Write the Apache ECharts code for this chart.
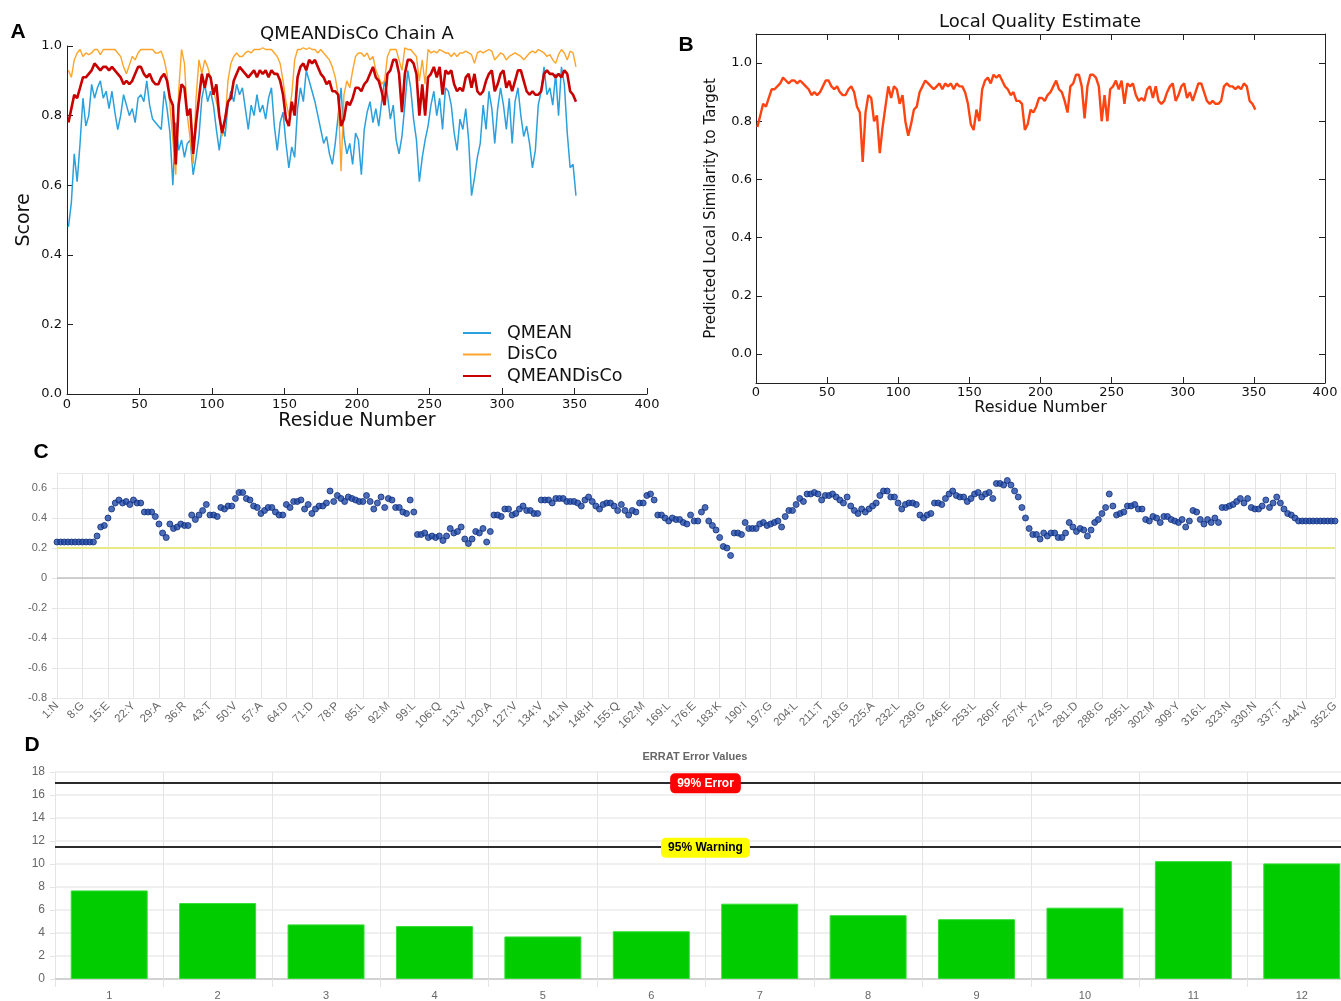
<!DOCTYPE html>
<html>
<head>
<meta charset="utf-8">
<script src="https://cdn.jsdelivr.net/npm/echarts@6/dist/echarts.min.js"></script>
<style>
  html, body { margin: 0; padding: 0; background: #fff; overflow: hidden; }
  #main { width: 1360px; height: 1001px; }
</style>
</head>
<body>
<div id="main"></div>
<script>
// A / B : per-residue scores, read every 2nd residue (1, 3, 5 ... 351)
var qmean = [
  0.48,0.55,0.69,0.61,0.72,0.85,0.77,0.80,0.89,0.85,
  0.88,0.90,0.85,0.87,0.82,0.87,0.81,0.76,0.80,0.86,
  0.83,0.80,0.82,0.78,0.85,0.86,0.84,0.90,0.83,0.79,
  0.78,0.77,0.76,0.87,0.82,0.75,0.60,0.78,0.70,0.73,
  0.68,0.72,0.73,0.63,0.68,0.74,0.85,0.89,0.84,0.87,
  0.83,0.76,0.70,0.77,0.74,0.83,0.87,0.84,0.89,0.86,
  0.88,0.82,0.76,0.83,0.80,0.86,0.81,0.83,0.79,0.85,
  0.88,0.77,0.70,0.78,0.81,0.72,0.65,0.71,0.68,0.82,
  0.88,0.84,0.93,0.90,0.87,0.84,0.80,0.76,0.72,0.74,
  0.69,0.66,0.72,0.80,0.88,0.74,0.69,0.72,0.66,0.75,
  0.73,0.63,0.76,0.81,0.84,0.78,0.82,0.77,0.84,0.90,
  0.86,0.79,0.83,0.73,0.69,0.74,0.83,0.93,0.88,0.79,
  0.73,0.61,0.68,0.73,0.77,0.83,0.87,0.80,0.85,0.76,
  0.88,0.87,0.83,0.75,0.70,0.79,0.76,0.82,0.73,0.57,
  0.62,0.68,0.72,0.83,0.76,0.87,0.82,0.72,0.82,0.88,
  0.83,0.76,0.85,0.72,0.84,0.88,0.80,0.74,0.77,0.72,
  0.65,0.70,0.83,0.87,0.94,0.86,0.88,0.83,0.92,0.80,
  0.94,0.89,0.75,0.65,0.66,0.57
];
var disco = [
  0.93,0.91,0.96,0.98,0.99,0.97,0.98,0.975,0.98,0.99,
  0.99,0.975,0.99,0.99,0.99,0.99,0.99,0.98,0.97,0.94,
  0.92,0.945,0.97,0.96,0.98,0.99,0.99,0.99,0.99,0.99,
  0.98,0.98,0.985,0.96,0.92,0.83,0.73,0.63,0.87,0.99,
  0.95,0.80,0.73,0.66,0.85,0.96,0.92,0.96,0.94,0.91,
  0.87,0.84,0.80,0.74,0.78,0.90,0.95,0.97,0.98,0.97,
  0.97,0.98,0.985,0.98,0.99,0.99,0.99,0.995,0.99,0.99,
  0.99,0.98,0.97,0.95,0.90,0.84,0.80,0.86,0.96,0.99,
  0.99,0.995,0.99,0.995,0.99,0.99,0.98,0.99,0.98,0.97,
  0.96,0.94,0.91,0.86,0.64,0.86,0.90,0.88,0.93,0.97,
  0.98,0.98,0.97,0.98,0.96,0.97,0.93,0.91,0.89,0.90,
  0.97,0.99,0.99,0.99,0.96,0.93,0.995,0.99,0.99,0.98,
  0.97,0.90,0.96,0.89,0.99,0.98,0.985,0.98,0.99,0.985,
  0.98,0.98,0.97,0.98,0.97,0.98,0.98,0.985,0.98,0.975,
  0.95,0.98,0.985,0.98,0.985,0.99,0.985,0.96,0.97,0.98,
  0.975,0.96,0.97,0.975,0.98,0.975,0.97,0.96,0.97,0.98,
  0.985,0.98,0.99,0.985,0.98,0.97,0.975,0.96,0.95,0.975,
  0.99,0.98,0.96,0.985,0.98,0.94
];
var qmeanDisco = [
  0.78,0.82,0.86,0.85,0.88,0.91,0.91,0.92,0.93,0.95,
  0.94,0.93,0.94,0.94,0.93,0.94,0.93,0.92,0.91,0.89,
  0.90,0.89,0.90,0.92,0.94,0.94,0.92,0.91,0.92,0.90,
  0.89,0.89,0.91,0.92,0.90,0.85,0.83,0.66,0.83,0.89,
  0.88,0.80,0.82,0.69,0.78,0.85,0.92,0.88,0.92,0.91,
  0.86,0.89,0.80,0.75,0.79,0.84,0.85,0.90,0.92,0.94,
  0.93,0.92,0.91,0.92,0.93,0.91,0.93,0.92,0.93,0.91,
  0.93,0.92,0.92,0.90,0.86,0.79,0.77,0.84,0.80,0.91,
  0.94,0.95,0.93,0.96,0.95,0.96,0.94,0.92,0.91,0.89,
  0.90,0.87,0.87,0.86,0.77,0.79,0.84,0.83,0.85,0.88,
  0.88,0.87,0.89,0.90,0.92,0.94,0.91,0.90,0.87,0.83,
  0.92,0.93,0.96,0.96,0.92,0.81,0.92,0.96,0.96,0.95,
  0.92,0.80,0.89,0.80,0.91,0.92,0.94,0.91,0.94,0.86,
  0.93,0.92,0.93,0.89,0.87,0.88,0.87,0.91,0.92,0.88,
  0.92,0.87,0.86,0.87,0.90,0.92,0.93,0.87,0.89,0.92,
  0.93,0.88,0.90,0.87,0.90,0.93,0.93,0.90,0.87,0.86,
  0.87,0.86,0.86,0.87,0.92,0.93,0.92,0.92,0.91,0.92,
  0.91,0.93,0.92,0.87,0.86,0.84
];
var yTicksB = [0, 0.2, 0.4, 0.6, 0.8, 1.0];

// C : one value per residue 1..352
var verify3d = [
  0.24,0.24,0.24,0.24,0.24,0.24,0.24,0.24,0.24,0.24,
  0.24,0.28,0.34,0.35,0.40,0.46,0.50,0.52,0.50,0.51,
  0.49,0.52,0.50,0.50,0.44,0.44,0.44,0.41,0.36,0.30,
  0.27,0.36,0.33,0.34,0.36,0.35,0.35,0.42,0.39,0.42,
  0.45,0.49,0.42,0.42,0.41,0.47,0.46,0.48,0.48,0.53,
  0.57,0.57,0.53,0.52,0.48,0.47,0.43,0.45,0.47,0.47,
  0.44,0.42,0.42,0.49,0.47,0.51,0.51,0.52,0.46,0.49,
  0.43,0.46,0.48,0.48,0.50,0.58,0.51,0.55,0.53,0.51,
  0.54,0.53,0.52,0.51,0.51,0.55,0.51,0.46,0.50,0.54,
  0.47,0.53,0.52,0.47,0.47,0.44,0.43,0.52,0.44,0.29,
  0.29,0.30,0.27,0.28,0.27,0.28,0.25,0.28,0.33,0.30,
  0.31,0.34,0.26,0.23,0.26,0.31,0.30,0.33,0.24,0.31,
  0.42,0.42,0.41,0.46,0.46,0.42,0.43,0.46,0.48,0.45,
  0.45,0.43,0.43,0.52,0.52,0.52,0.50,0.53,0.53,0.53,
  0.51,0.51,0.51,0.50,0.48,0.52,0.54,0.51,0.48,0.46,
  0.49,0.50,0.50,0.48,0.45,0.49,0.45,0.42,0.45,0.44,
  0.50,0.50,0.55,0.56,0.52,0.42,0.42,0.40,0.38,0.40,
  0.39,0.39,0.37,0.36,0.42,0.38,0.38,0.44,0.47,0.38,
  0.35,0.32,0.27,0.21,0.20,0.15,0.30,0.30,0.29,0.37,
  0.33,0.33,0.33,0.36,0.37,0.35,0.36,0.37,0.38,0.34,
  0.41,0.45,0.45,0.49,0.53,0.51,0.56,0.56,0.57,0.56,
  0.52,0.55,0.55,0.56,0.54,0.52,0.50,0.54,0.48,0.45,
  0.43,0.46,0.44,0.46,0.48,0.50,0.55,0.58,0.58,0.54,
  0.54,0.50,0.46,0.49,0.50,0.50,0.49,0.42,0.40,0.42,
  0.43,0.50,0.50,0.49,0.53,0.56,0.58,0.55,0.54,0.54,
  0.51,0.53,0.56,0.57,0.54,0.56,0.57,0.53,0.63,0.63,
  0.62,0.65,0.62,0.58,0.54,0.47,0.40,0.33,0.29,0.29,
  0.26,0.30,0.28,0.30,0.30,0.27,0.27,0.30,0.37,0.34,
  0.31,0.33,0.32,0.28,0.32,0.37,0.39,0.43,0.47,0.56,
  0.48,0.42,0.43,0.44,0.48,0.48,0.49,0.46,0.46,0.39,
  0.38,0.41,0.40,0.37,0.41,0.41,0.39,0.38,0.37,0.39,
  0.34,0.38,0.45,0.44,0.39,0.36,0.39,0.37,0.40,0.37,
  0.47,0.47,0.48,0.49,0.51,0.53,0.50,0.53,0.47,0.46,
  0.46,0.48,0.52,0.47,0.50,0.54,0.50,0.46,0.43,0.42,
  0.40,0.38,0.38,0.38,0.38,0.38,0.38,0.38,0.38,0.38,
  0.38,0.38
];
var cTickLabels = ['1:N','8:G','15:E','22:Y','29:A','36:R','43:T','50:V','57:A','64:D',
  '71:D','78:P','85:L','92:M','99:L','106:Q','113:V','120:A','127:V','134:V',
  '141:N','148:H','155:Q','162:M','169:L','176:E','183:K','190:I','197:G','204:L',
  '211:T','218:G','225:A','232:L','239:G','246:E','253:L','260:F','267:K','274:S',
  '281:D','288:G','295:L','302:M','309:Y','316:L','323:N','330:N','337:T','344:V','352:G'];

// D : ERRAT
var erratBlocks = ['1','2','3','4','5','6','7','8','9','10','11','12'];
var erratValues = [7.7, 6.6, 4.75, 4.6, 3.7, 4.15, 6.55, 5.55, 5.2, 6.2, 10.25, 10.05];
var erratError = 17.1;
var erratWarning = 11.5;

function everyOther(vals) {
  return vals.map(function (v, i) { return [1 + 2 * i, v]; });
}
var residues = verify3d.map(function (v, i) { return String(i + 1); });
var cLabelAt = {};
cTickLabels.forEach(function (l) { cLabelAt[parseInt(l, 10)] = l; });
function cTickShown(index) { return cLabelAt[index + 1] !== undefined; }

var mpl = 'DejaVu Sans';
var cjs = 'Liberation Sans';
var dark = '#222';

function letter(t, x, y) {
  return { type: 'text', x: x, y: y, style: { text: t, font: 'bold 21px ' + cjs, fill: '#000',
    textAlign: 'center', textVerticalAlign: 'middle', align: 'center', verticalAlign: 'middle' } };
}
function caption(t, x, y, font, fill) {
  return { type: 'text', x: x, y: y, style: { text: t, font: font, fill: fill,
    textAlign: 'center', textVerticalAlign: 'middle', align: 'center', verticalAlign: 'middle' } };
}

var chart = echarts.init(document.getElementById('main'));
chart.setOption({
  animation: false,
  backgroundColor: '#fff',
  graphic: [
    letter('A', 18, 32), letter('B', 686, 45), letter('C', 41, 452), letter('D', 32, 745),
    caption('QMEANDisCo Chain A', 357, 34, '18px ' + mpl, '#111'),
    caption('Local Quality Estimate', 1040, 22, '18px ' + mpl, '#111'),
    caption('ERRAT Error Values', 695, 757, 'bold 11px ' + cjs, '#666')
  ],
  legend: {
    data: ['QMEAN', 'DisCo', 'QMEANDisCo'],
    orient: 'vertical', left: 457, top: 319,
    itemWidth: 28, itemHeight: 18, itemGap: 3.5,
    itemStyle: { opacity: 0 },
    textStyle: { fontFamily: mpl, fontSize: 17.5, color: '#111', padding: [0, 0, 0, 11] }
  },
  grid: [
    { left: 67, top: 46, width: 580, height: 348 },
    { left: 756, top: 34, width: 569, height: 349 },
    { left: 57, top: 473, width: 1278, height: 225 },
    { left: 55, top: 772, width: 1301, height: 211 }
  ],
  xAxis: [
    { type: 'value', gridIndex: 0, min: 0, max: 400, interval: 50,
      name: 'Residue Number', nameLocation: 'middle', nameGap: 17,
      nameTextStyle: { fontFamily: mpl, fontSize: 19, color: '#111' },
      axisLine: { lineStyle: { color: dark } },
      axisTick: { inside: true, length: 6, lineStyle: { color: dark } },
      axisLabel: { fontFamily: mpl, fontSize: 13, color: '#111', margin: 4 },
      splitLine: { show: false } },
    { type: 'value', gridIndex: 1, min: 0, max: 400, interval: 50,
      name: 'Residue Number', nameLocation: 'middle', nameGap: 16,
      nameTextStyle: { fontFamily: mpl, fontSize: 16, color: '#111' },
      axisLine: { onZero: false, lineStyle: { color: dark } },
      axisTick: { inside: true, length: 6, lineStyle: { color: dark } },
      axisLabel: { fontFamily: mpl, fontSize: 13, color: '#111', margin: 3 },
      splitLine: { show: false } },
    { type: 'value', gridIndex: 1, position: 'top', min: 0, max: 400, interval: 50,
      axisLine: { onZero: false, lineStyle: { color: dark } },
      axisTick: { inside: true, length: 6, lineStyle: { color: dark } },
      axisLabel: { show: false }, splitLine: { show: false } },
    { type: 'category', gridIndex: 2, data: residues, boundaryGap: false,
      axisLine: { show: false },
      axisTick: { show: true, interval: cTickShown, length: 5, lineStyle: { color: '#e4e4e4' } },
      axisLabel: { interval: cTickShown, rotate: 45, fontFamily: cjs, fontSize: 11.5, color: '#666', margin: 6,
        formatter: function (v) { return cLabelAt[+v] || ''; } },
      splitLine: { show: true, interval: cTickShown, lineStyle: { color: '#e4e4e4', width: 1 } } },
    { type: 'category', gridIndex: 3, data: erratBlocks, boundaryGap: true,
      axisLine: { lineStyle: { color: '#c8c8c8', width: 1.5 } },
      axisTick: { show: true, interval: 0, length: 8, lineStyle: { color: '#e4e4e4' } },
      axisLabel: { interval: 0, fontFamily: cjs, fontSize: 11, color: '#666', margin: 11 },
      splitLine: { show: true, interval: 0, lineStyle: { color: '#e4e4e4', width: 1 } } }
  ],
  yAxis: [
    { type: 'value', gridIndex: 0, min: 0, max: 1, interval: 0.2,
      name: 'Score', nameLocation: 'middle', nameGap: 33, nameRotate: 90,
      nameTextStyle: { fontFamily: mpl, fontSize: 19, color: '#111' },
      axisLine: { show: true, lineStyle: { color: dark } },
      axisTick: { show: true, inside: true, length: 6, lineStyle: { color: dark } },
      axisLabel: { fontFamily: mpl, fontSize: 13, color: '#111', margin: 5,
        formatter: function (v) { return v.toFixed(1); } },
      splitLine: { show: false } },
    { type: 'value', gridIndex: 1, min: -0.1, max: 1.1,
      name: 'Predicted Local Similarity to Target', nameLocation: 'middle', nameGap: 37, nameRotate: 90,
      nameTextStyle: { fontFamily: mpl, fontSize: 15, color: '#111' },
      axisLine: { show: true, onZero: false, lineStyle: { color: dark } },
      axisTick: { show: true, inside: true, length: 6, customValues: yTicksB, lineStyle: { color: dark } },
      axisLabel: { fontFamily: mpl, fontSize: 13, color: '#111', margin: 4, customValues: yTicksB,
        formatter: function (v) { return v.toFixed(1); } },
      splitLine: { show: false } },
    { type: 'value', gridIndex: 1, position: 'right', min: -0.1, max: 1.1,
      axisLine: { show: true, onZero: false, lineStyle: { color: dark } },
      axisTick: { show: true, inside: true, length: 6, customValues: yTicksB, lineStyle: { color: dark } },
      axisLabel: { show: false }, splitLine: { show: false } },
    { type: 'value', gridIndex: 2, min: -0.8, max: 0.7, interval: 0.2,
      axisLine: { show: false },
      axisTick: { show: true, length: 5, lineStyle: { color: '#e4e4e4' } },
      axisLabel: { fontFamily: cjs, fontSize: 11, color: '#666', margin: 10, showMaxLabel: false,
        formatter: function (v) { return String(Math.round(v * 10) / 10); } },
      splitLine: { show: true, lineStyle: { color: '#e8e8e8', width: 1 } } },
    { type: 'value', gridIndex: 3, min: 0, max: 18, interval: 2,
      axisLine: { show: false },
      axisTick: { show: true, length: 5, lineStyle: { color: '#e4e4e4' } },
      axisLabel: { fontFamily: cjs, fontSize: 12, color: '#666', margin: 10 },
      splitLine: { show: true, lineStyle: { color: '#ebebeb', width: 1.5 } } }
  ],
  series: [
    { name: 'QMEAN', type: 'line', xAxisIndex: 0, yAxisIndex: 0, data: everyOther(qmean),
      symbol: 'none', color: '#2aa0dc', lineStyle: { width: 1.5, color: '#2aa0dc' } },
    { name: 'DisCo', type: 'line', xAxisIndex: 0, yAxisIndex: 0, data: everyOther(disco),
      symbol: 'none', color: '#ffa42a', lineStyle: { width: 1.4, color: '#ffa42a' } },
    { name: 'QMEANDisCo', type: 'line', xAxisIndex: 0, yAxisIndex: 0, data: everyOther(qmeanDisco),
      symbol: 'none', color: '#c80000', lineStyle: { width: 2.6, color: '#c80000' } },
    { name: 'Local Quality', type: 'line', xAxisIndex: 1, yAxisIndex: 1, data: everyOther(qmeanDisco),
      symbol: 'none', color: '#ff4411', lineStyle: { width: 2.4, color: '#ff4411' } },
    { name: 'Verify3D', type: 'scatter', xAxisIndex: 3, yAxisIndex: 3, data: verify3d,
      symbolSize: 6, itemStyle: { color: '#2148a8', borderColor: '#0f2f7c', borderWidth: 1 },
      markLine: { silent: true, symbol: 'none', z: 1, label: { show: false },
        data: [
          { yAxis: 0.2, lineStyle: { color: '#e9e985', width: 2, type: 'solid' } },
          { yAxis: 0, lineStyle: { color: '#c2c2c2', width: 1.5, type: 'solid' } }
        ] } },
    { name: 'ERRAT', type: 'bar', xAxisIndex: 4, yAxisIndex: 4, data: erratValues,
      barWidth: '71%', itemStyle: { color: '#00cc00', borderColor: '#33dd33', borderWidth: 1 },
      markLine: { silent: true, symbol: 'none',
        lineStyle: { color: '#2b2b2b', width: 2.2, type: 'solid' },
        label: { position: 'middle', fontFamily: cjs, fontSize: 12, fontWeight: 'bold',
          padding: [4, 7], borderRadius: 5, offset: [0, 16] },
        data: [
          { yAxis: erratError, label: { formatter: '99% Error', color: '#fff', backgroundColor: '#ff0000' } },
          { yAxis: erratWarning, label: { formatter: '95% Warning', color: '#000', backgroundColor: '#ffff00' } }
        ] } }
  ]
});
</script>
</body>
</html>
